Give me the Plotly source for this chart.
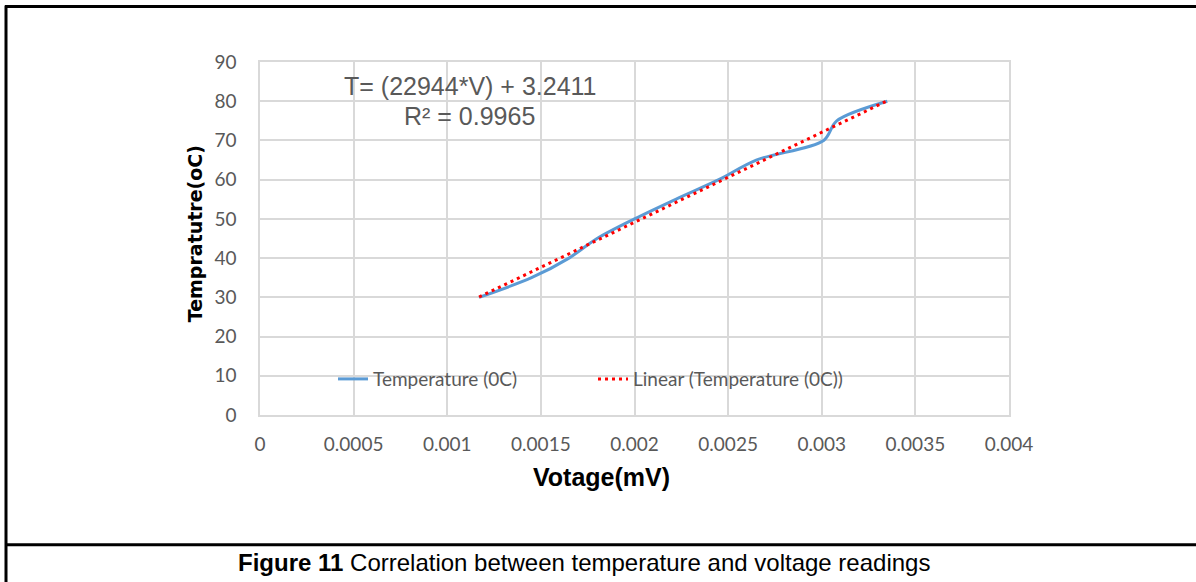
import plotly.graph_objects as go

# ---- data ----
voltage_mv = [0.00117, 0.00145, 0.00165, 0.00180, 0.00200, 0.00222,
              0.00245, 0.00265, 0.00301, 0.00308, 0.00335]
temperature_c = [30, 35, 40, 45, 50, 55, 60, 65, 70, 75, 80]

trend_slope = 22944
trend_intercept = 3.2411
r_squared = 0.9965

x_tick_vals = [0, 0.0005, 0.001, 0.0015, 0.002, 0.0025, 0.003, 0.0035, 0.004]
x_tick_text = ["0", "0.0005", "0.001", "0.0015", "0.002", "0.0025", "0.003", "0.0035", "0.004"]
y_tick_vals = [0, 10, 20, 30, 40, 50, 60, 70, 80, 90]

series_name = "Temperature (0C)"
trend_name = "Linear (Temperature (0C))"

# trendline endpoints span the data range, using the equation shown in the chart
trend_x = [min(voltage_mv), max(voltage_mv)]
trend_y = [trend_slope * v + trend_intercept for v in trend_x]

W, H = 1196, 582
L, R, T, B = 260, 1009, 61.5, 415  # plot area pixel box


def px(xp):
    return (xp - L) / (R - L)


def py(yp):
    return (B - yp) / (B - T)


GRAY = "#595959"
GRID = "#d9d9d9"

fig = go.Figure()
fig.add_trace(go.Scatter(
    x=voltage_mv, y=temperature_c, mode="lines", name=series_name,
    line=dict(color="#5B9BD5", width=3, shape="spline", smoothing=0.9),
))
fig.add_trace(go.Scatter(
    x=trend_x, y=trend_y, mode="lines", name=trend_name,
    line=dict(color="#FF0000", width=3, dash="3px,4px"),
))

fig.update_layout(
    width=W, height=H,
    margin=dict(l=L, r=W - R, t=T, b=H - B),
    paper_bgcolor="white", plot_bgcolor="white",
    font=dict(family="Lato", color=GRAY, size=19),
    showlegend=True,
    legend=dict(
        orientation="h", x=px(333), y=py(379), xanchor="left", yanchor="middle",
        bgcolor="rgba(0,0,0,0)", font=dict(family="Lato", size=19, color=GRAY),
        entrywidth=215, entrywidthmode="pixels", traceorder="normal",
    ),
    xaxis=dict(
        range=[0, 0.004], tickvals=x_tick_vals, ticktext=x_tick_text,
        showgrid=True, gridcolor=GRID, gridwidth=1.5,
        showline=True, linecolor=GRID, linewidth=1.5, mirror=True,
        zeroline=False, ticks="outside", ticklen=11, tickcolor="rgba(0,0,0,0)",
        tickfont=dict(family="Lato", size=19, color=GRAY),
    ),
    yaxis=dict(
        range=[0, 90], tickvals=y_tick_vals,
        showgrid=True, gridcolor=GRID, gridwidth=1.5,
        showline=True, linecolor=GRID, linewidth=1.5, mirror=True,
        zeroline=False, ticks="outside", ticklen=18, tickcolor="rgba(0,0,0,0)",
        tickfont=dict(family="Lato", size=19, color=GRAY),
    ),
)

annotations = [
    dict(text="T= (22944*V) + 3.2411", x=px(470), y=py(86), xref="paper", yref="paper",
         showarrow=False, xanchor="center", yanchor="middle",
         font=dict(family="Liberation Sans", size=25, color=GRAY)),
    dict(text="R² = " + str(r_squared), x=px(469), y=py(116), xref="paper", yref="paper",
         showarrow=False, xanchor="center", yanchor="middle",
         font=dict(family="Liberation Sans", size=25, color=GRAY)),
    dict(text="<b>Votage(mV)</b>", x=px(601), y=py(477), xref="paper", yref="paper",
         showarrow=False, xanchor="center", yanchor="middle",
         font=dict(family="Liberation Sans", size=25, color="black")),
    dict(text="<b>Tempratutre(oC)</b>", x=px(195), y=py(234), xref="paper", yref="paper",
         showarrow=False, xanchor="center", yanchor="middle", textangle=-90,
         font=dict(family="DejaVu Sans", size=19, color="black")),
    dict(text="<b>Figure 11</b> Correlation between temperature and voltage readings",
         x=px(584), y=py(563), xref="paper", yref="paper",
         showarrow=False, xanchor="center", yanchor="middle",
         font=dict(family="Liberation Sans", size=24, color="black")),
]
fig.update_layout(annotations=annotations)

# document frame (table cell borders around figure and caption)
frame = dict(color="black", width=3)
fig.add_shape(type="line", xref="paper", yref="paper",
              x0=px(6), x1=px(6), y0=py(5), y1=py(590), line=frame)
fig.add_shape(type="line", xref="paper", yref="paper",
              x0=px(5), x1=px(1200), y0=py(6), y1=py(6), line=frame)
fig.add_shape(type="line", xref="paper", yref="paper",
              x0=px(5), x1=px(1200), y0=py(545), y1=py(545), line=frame)

fig.write_html("out.html")
